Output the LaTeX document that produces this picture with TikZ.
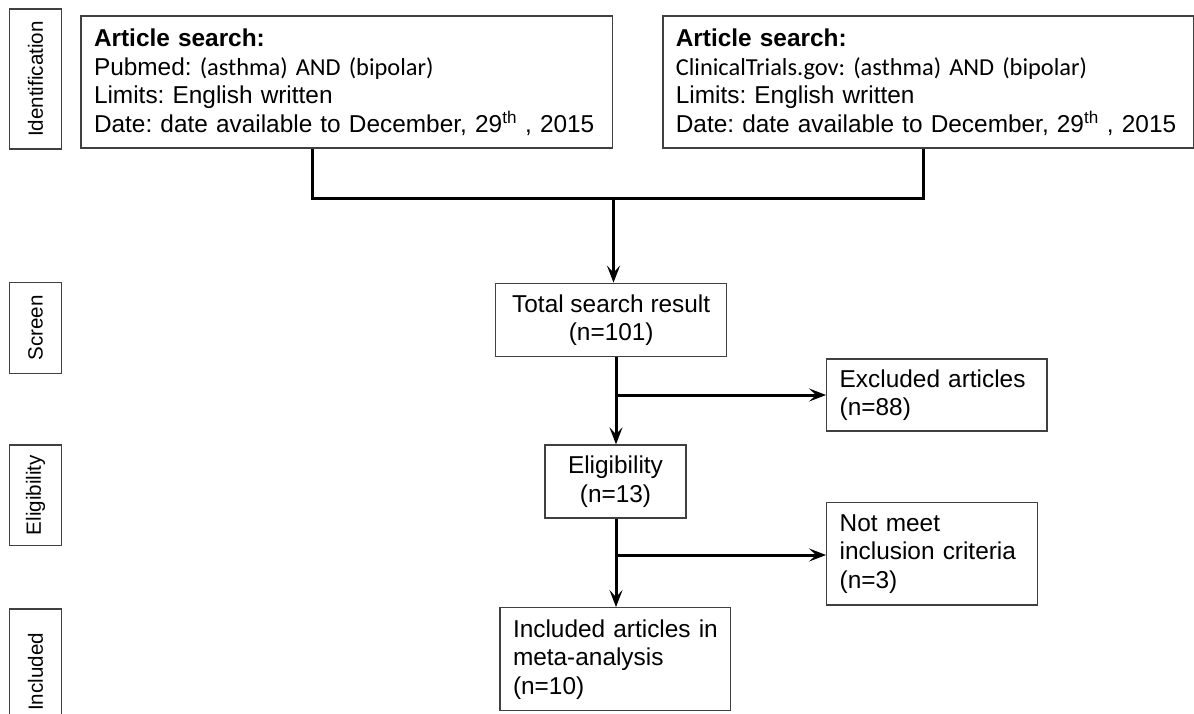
\documentclass[tikz,border=0pt]{standalone}
\usepackage{fontspec}
\setmainfont{Liberation Sans}
\newfontfamily\carl{Carlito}
\usetikzlibrary{arrows.meta}
\begin{document}
\frenchspacing
\begin{tikzpicture}[x=1pt,y=-1pt,
  box/.style={draw=black!75, line width=1.3pt, inner xsep=13pt, inner ysep=0pt,
    font=\fontsize{24.4}{28.5}\selectfont\frenchspacing},
  lbox/.style={box, align=left},
  cbox/.style={box, align=center},
  side/.style={draw=black!75, line width=1.3pt, rotate=90, inner sep=0pt,
    font=\fontsize{20.6}{24}\selectfont},
  conn/.style={line width=3pt},
  arr/.style={conn, -{Stealth[length=17pt,width=13pt,inset=7pt]}}]
\fill[white] (0,0) rectangle (1194,713);
\useasboundingbox (0,0) rectangle (1194,713);

% side labels
\node[side, minimum width=140pt, minimum height=52.4pt] (sid) at (35.5,79) {Identification};
\node[side, minimum width=90.6pt, minimum height=52.4pt] (sscr) at (35.5,328) {Screen};
\node[side, minimum width=100.3pt, minimum height=52.4pt] (selg) at (35.5,495.2) {Eligibility};
\node[side, minimum width=126pt, minimum height=52.4pt] (sinc) at (35.5,672) {Included};

% search boxes
\node[lbox, text width=505.7pt, minimum width=531.7pt, minimum height=132pt] (lsrc) at (346.85,82)
  {\mbox{\textbf{Article search:}}\\
   \mbox{Pubmed: {\carl (asthma) AND (bipolar)}}\\
   \mbox{Limits: English written}\\
   \mbox{Date: date available to December, 29\textsuperscript{th} , 2015}};
\node[lbox, text width=504.3pt, minimum width=530.3pt, minimum height=132pt] (rsrc) at (928,82)
  {\mbox{\textbf{Article search:}}\\
   \mbox{\carl ClinicalTrials.gov: (asthma) AND (bipolar)}\\
   \mbox{Limits: English written}\\
   \mbox{Date: date available to December, 29\textsuperscript{th} , 2015}};

% flow boxes
\node[cbox, minimum width=231pt, minimum height=73.4pt] (total) at (611.2,320)
  {Total search result\\(n=101)};
\node[lbox, text width=194.3pt, minimum width=220.3pt, minimum height=72pt] (excl) at (936.85,395)
  {\mbox{Excluded articles}\\(n=88)};
\node[cbox, minimum width=141pt, minimum height=73pt] (elig) at (615.5,481.5)
  {Eligibility\\(n=13)};
\node[lbox, text width=185pt, minimum width=211pt, minimum height=102.3pt] (notmeet) at (932.2,553.85)
  {\mbox{Not meet}\\\mbox{inclusion criteria}\\(n=3)};
\node[lbox, text width=204.7pt, minimum width=230.7pt, minimum height=103pt] (incl) at (615.35,659.2)
  {\mbox{Included articles in}\\\mbox{meta-analysis}\\(n=10)};

% connectors
\coordinate (lj) at (312,198);
\coordinate (mj) at (613.5,198);
\coordinate (rj) at (923.5,198);
\coordinate (b1) at (616,395);
\coordinate (b2) at (616,555);
\draw[conn] (lsrc.south -| lj) -- (lj) -- (rj) -- (rsrc.south -| rj);
\draw[arr] (mj) -- (total.north -| mj);
\draw[arr] (total.south -| b1) -- (elig.north -| b1);
\draw[arr] (b1) -- (excl.west |- b1);
\draw[arr] (elig.south -| b2) -- (incl.north -| b2);
\draw[arr] (b2) -- (notmeet.west |- b2);
\end{tikzpicture}
\end{document}
